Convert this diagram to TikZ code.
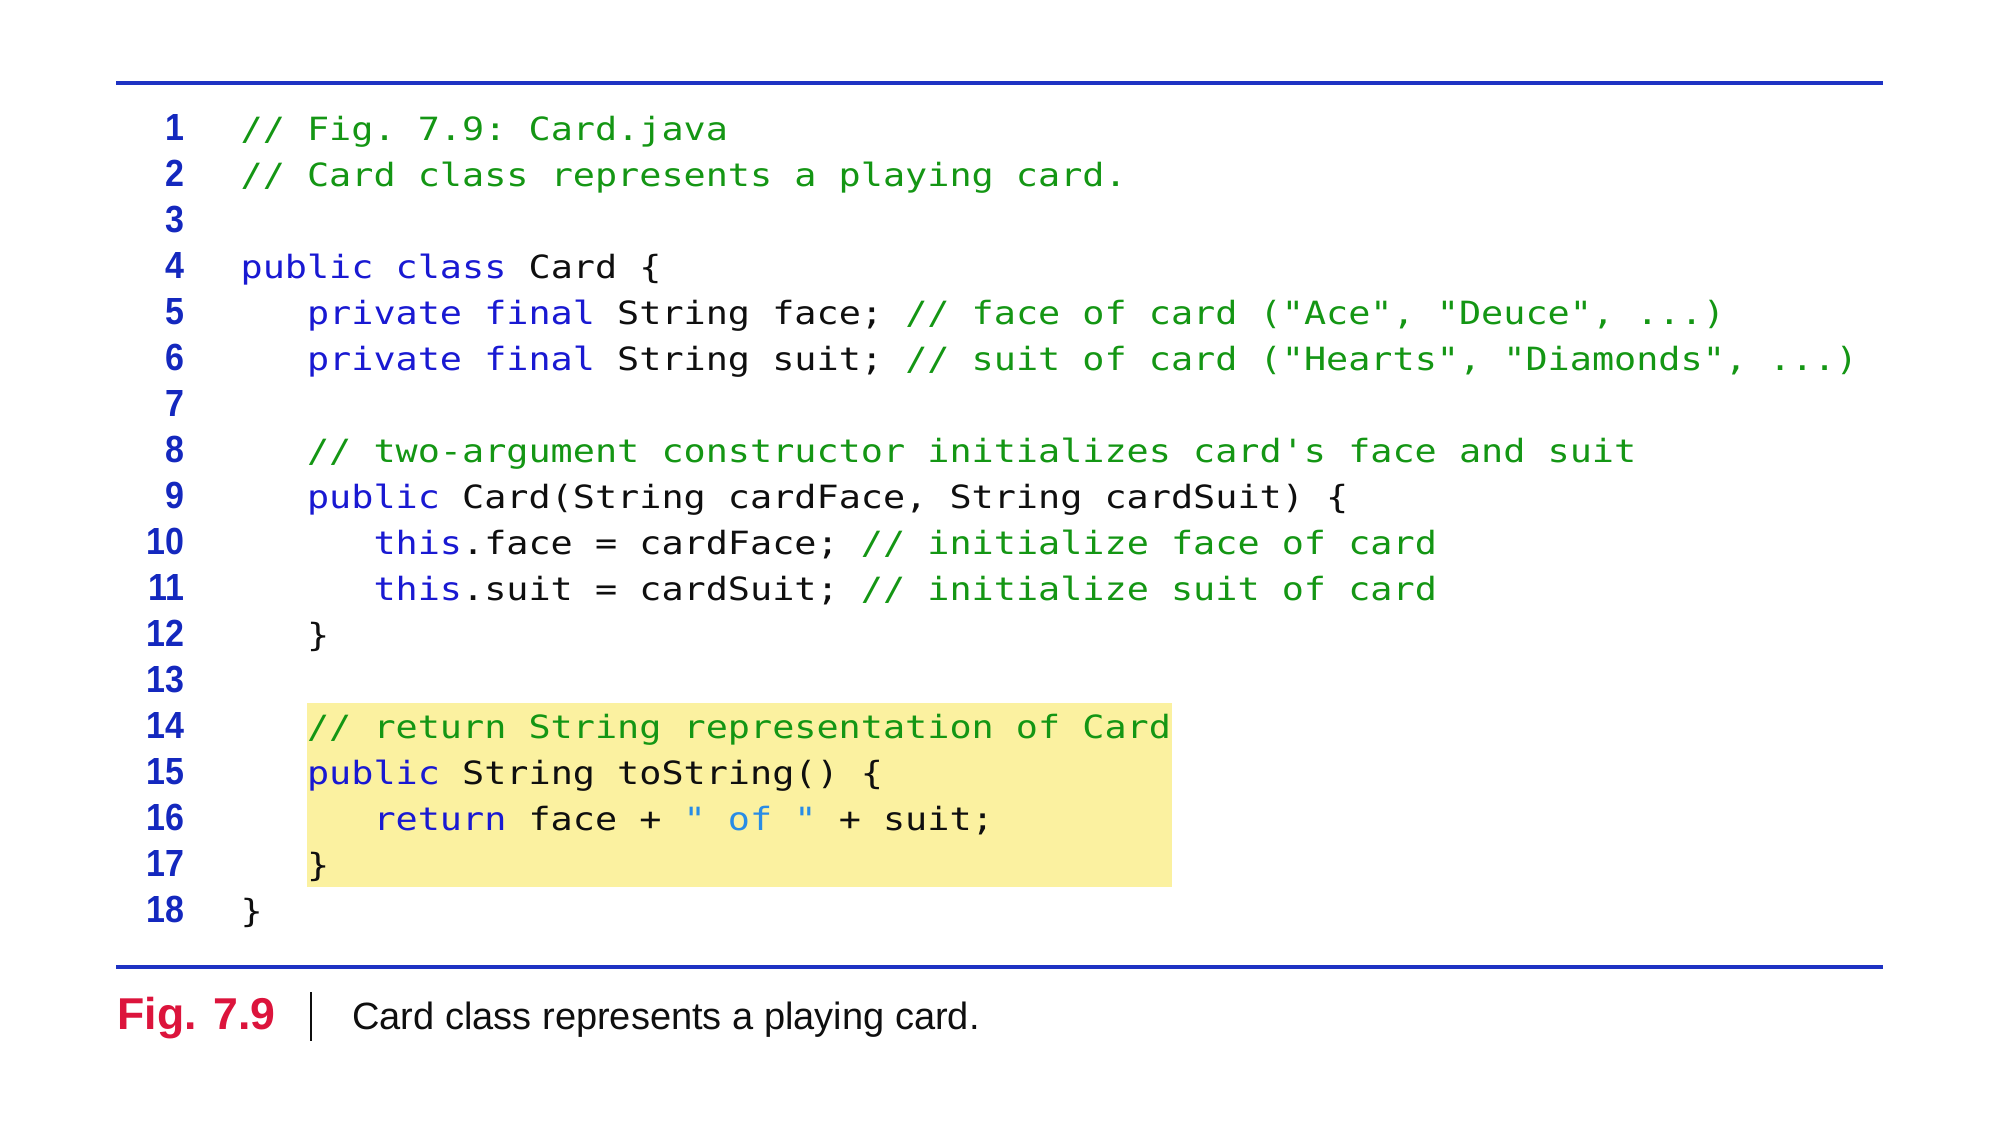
\documentclass[tikz,border=0pt]{standalone}
\usepackage{fontspec}
\usepackage{graphicx}
\setmonofont{DejaVu Sans Mono}[FakeStretch=1.15]
\newfontfamily\capfont{Liberation Sans}
\newfontfamily\numfont{Liberation Sans}[FakeStretch=0.9]
\definecolor{rulecol}{RGB}{30,50,195}
\definecolor{numcol}{RGB}{20,40,190}
\definecolor{kwcol}{RGB}{25,25,210}
\definecolor{cmcol}{RGB}{20,150,20}
\definecolor{slcol}{RGB}{40,140,230}
\definecolor{hlcol}{RGB}{251,241,160}
\definecolor{figred}{RGB}{220,20,60}
\definecolor{codeblack}{RGB}{15,15,15}
\newcommand\KW[1]{\textcolor{kwcol}{#1}}
\newcommand\CM[1]{\textcolor{cmcol}{#1}}
\newcommand\SL[1]{\textcolor{slcol}{#1}}
\newcommand\codefnt{\ttfamily\fontsize{16}{19}\selectfont}
\tikzset{
  codeline/.style={anchor=base west, inner sep=0pt, font=\codefnt, text=codeblack},
  lnum/.style={anchor=base east, inner sep=0pt, font=\numfont\bfseries\fontsize{18.9}{22}\selectfont, text=numcol},
  hrule/.style={draw=rulecol, line width=1.7pt},
  hlbox/.style={fill=hlcol, draw=none}
}
\begin{document}
\begin{tikzpicture}[x=0.5pt,y=-0.5pt]
\useasboundingbox (0,0) rectangle (2000,1125);
% rules
\coordinate (tl) at (116,83);
\coordinate (tr) at (1883,83);
\coordinate (bl) at (116,967);
\coordinate (br) at (1883,967);
\draw[hrule] (tl) -- (tr);
\draw[hrule] (bl) -- (br);
% highlight
\path[hlbox] (306.5,703) rectangle (1172,887);
% line numbers
\foreach \i in {1,...,18}{
  \node[lnum] (n\i) at (185,{140+(\i-1)*46}) {\i};
}
% code lines
\def\xa{240.2}
\def\xb{306.65}
\def\xc{373.1}
\node[codeline] (l1) at (\xa,140) {\CM{// Fig. 7.9: Card.java}};
\node[codeline] (l2) at (\xa,186) {\CM{// Card class represents a playing card.}};
\node[codeline] (l4) at (\xa,278) {\KW{public class} Card \{};
\node[codeline] (l5) at (\xb,324) {\KW{private final} String face; \CM{// face of card ("Ace", "Deuce", ...)}};
\node[codeline] (l6) at (\xb,370) {\KW{private final} String suit; \CM{// suit of card ("Hearts", "Diamonds", ...)}};
\node[codeline] (l8) at (\xb,462) {\CM{// two-argument constructor initializes card's face and suit}};
\node[codeline] (l9) at (\xb,508) {\KW{public} Card(String cardFace, String cardSuit) \{};
\node[codeline] (l10) at (\xc,554) {\KW{this}.face = cardFace; \CM{// initialize face of card}};
\node[codeline] (l11) at (\xc,600) {\KW{this}.suit = cardSuit; \CM{// initialize suit of card}};
\node[codeline] (l12) at (\xb,646) {\}};
\node[codeline] (l14) at (\xb,738) {\CM{// return String representation of Card}};
\node[codeline] (l15) at (\xb,784) {\KW{public} String toString() \{};
\node[codeline] (l16) at (\xc,830) {\KW{return} face + \SL{" of "} + suit;};
\node[codeline] (l17) at (\xb,876) {\}};
\node[codeline] (l18) at (\xa,922) {\}};
% caption
\node[anchor=base west, inner sep=0pt, font=\capfont\bfseries\fontsize{22.3}{26}\selectfont, text=figred] (fig) at (117,1029) {Fig. 7.9};
\coordinate (bart) at (311,992);
\coordinate (barb) at (311,1041);
\draw[line width=1.2pt, codeblack] (bart) -- (barb);
\node[anchor=base west, inner sep=0pt, text=codeblack, font=\capfont\fontsize{19}{23}\selectfont] (cap) at (352,1029) {Card class represents a playing card.};
\end{tikzpicture}
\end{document}
